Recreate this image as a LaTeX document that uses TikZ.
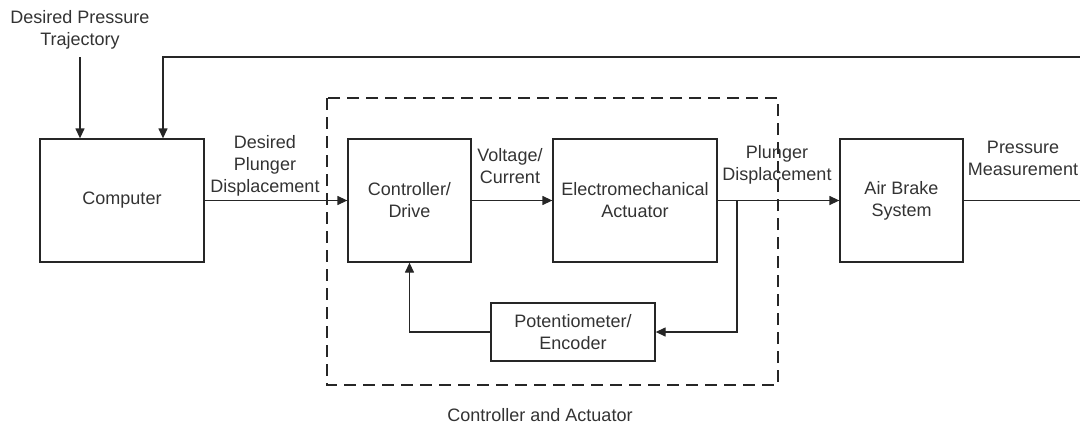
\documentclass[tikz,border=0pt]{standalone}
\usepackage{fontspec}
\setmainfont{Liberation Sans}
\usetikzlibrary{arrows.meta}
\begin{document}
\begin{tikzpicture}[x=1pt,y=-1pt,
  every node/.style={font=\fontsize{18}{22}\selectfont, text=black!80},
  blk/.style={draw=black!85, line width=1.3pt, inner sep=0pt, align=center},
  lbl/.style={align=center, inner sep=0pt},
  wire/.style={draw=black!85, line width=1.3pt},
  arr/.style={wire, -{Triangle[length=10pt,width=9pt]}},
  grp/.style={draw=black!85, line width=1.3pt, dash pattern=on 12pt off 7pt}]
\useasboundingbox (0,0) rectangle (1080,424);
% blocks
\node[blk, minimum width=164pt, minimum height=123pt] (comp) at (122,200.5) {Computer};
\node[blk, minimum width=123pt, minimum height=123pt] (ctrl) at (409.5,200.5) {Controller/\\Drive};
\node[blk, minimum width=164pt, minimum height=123pt] (act) at (635,200.5) {Electromechanical\\Actuator};
\node[blk, minimum width=123pt, minimum height=123pt] (brake) at (901.5,200.5) {Air Brake\\System};
\node[blk, minimum width=164pt, minimum height=58pt] (pot) at (573,332) {Potentiometer/\\Encoder};
% group
\draw[grp] (327,98) rectangle (778,385);
\node[lbl] (grplbl) at (540,415) {Controller and Actuator};
% labels
\node[lbl] (traj) at (80,30) {Desired Pressure\\Trajectory};
\node[lbl] (dpd) at (265,166) {Desired\\Plunger\\Displacement};
\node[lbl] (vc) at (510,166) {Voltage/\\Current};
\node[lbl] (pd) at (777,165) {Plunger\\Displacement};
\node[lbl] (pm) at (1023,158) {Pressure\\Measurement};
% coordinates
\coordinate (trajend) at (80,57);
\coordinate (br) at (737,200.5);
\coordinate (topR) at (1081,57);
\coordinate (outR) at (1081,200.5);
% connectors
\draw[arr] (trajend) -- (trajend |- comp.north);
\draw[arr] (topR) -| ([xshift=41pt]comp.north);
\draw[arr] (comp.east) -- (ctrl.west);
\draw[arr] (ctrl.east) -- (act.west);
\draw[arr] (act.east) -- (brake.west);
\draw[arr] (br) |- (pot.east);
\draw[arr] (pot.west) -| (ctrl.south);
\draw[wire] (brake.east) -- (outR);
\end{tikzpicture}
\end{document}
